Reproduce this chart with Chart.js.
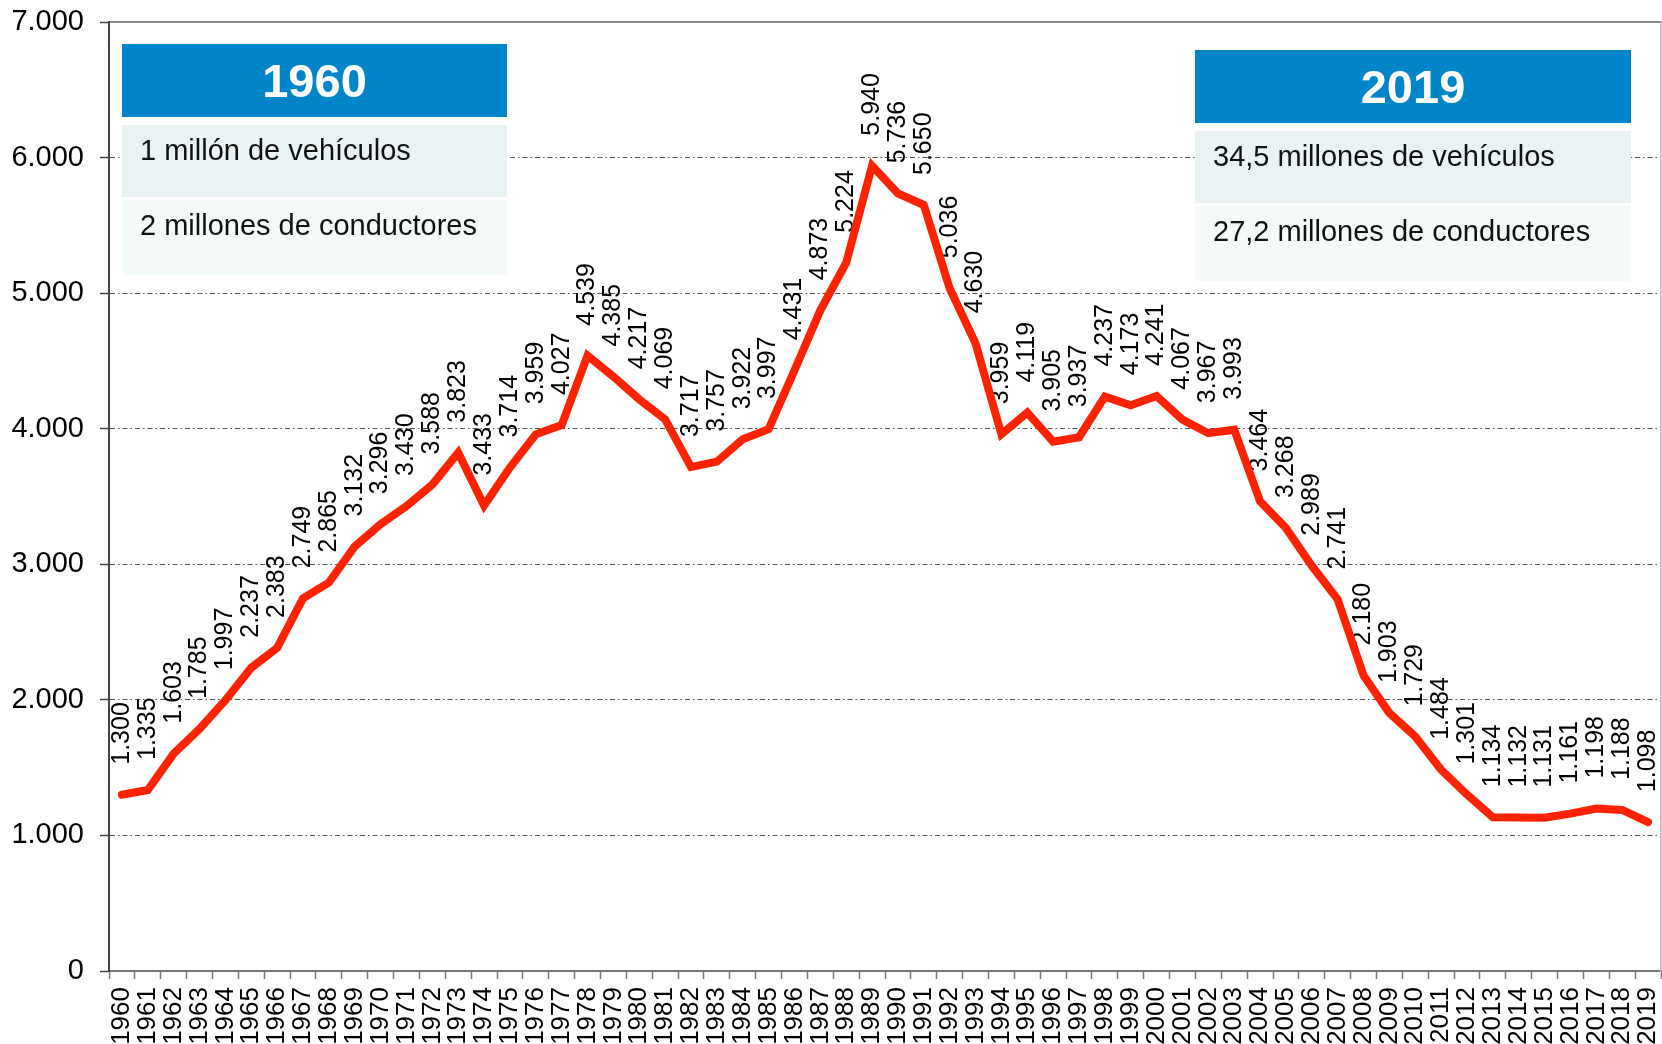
<!DOCTYPE html>
<html lang="es">
<head>
<meta charset="utf-8">
<title>Fallecidos 1960-2019</title>
<script src="https://cdn.jsdelivr.net/npm/chart.js@4.4.1/dist/chart.umd.min.js"></script>
<style>
  body { margin: 0; background: #fff; font-family: "Liberation Sans", Arial, sans-serif; }
  #wrap { position: relative; width: 1662px; height: 1044px; overflow: hidden; }
  .box { position: absolute; }
  .head { height: 73px; background: #0085cb; color: #fff; font-weight: bold; font-size: 47px;
          line-height: 73px; text-align: center; }
  .row { height: 72px; box-sizing: border-box; padding: 11px 0 0 18px; font-size: 29px;
         line-height: 29px; color: #111; }
  .r1 { background: #eaf3f4; margin-top: 8px; }
  .r2 { background: #f4f9f9; margin-top: 3px; height: 75px; }
</style>
</head>
<body>
<div id="wrap">
  <canvas id="myChart"></canvas>

  <div class="box" style="left:122px; top:44px; width:385px;">
    <div class="head">1960</div>
    <div class="row r1">1 millón de vehículos</div>
    <div class="row r2">2 millones de conductores</div>
  </div>

  <div class="box" style="left:1195px; top:50px; width:436px;">
    <div class="head">2019</div>
    <div class="row r1">34,5 millones de vehículos</div>
    <div class="row r2">27,2 millones de conductores</div>
  </div>
</div>

<script>
// años y fallecidos
var years = [];
for (var y = 1960; y <= 2019; y++) { years.push(String(y)); }

var fallecidos = [
    1300, 1335, 1603, 1785, 1997, 2237, 2383, 2749, 2865, 3132,
    3296, 3430, 3588, 3823, 3433, 3714, 3959, 4027, 4539, 4385,
    4217, 4069, 3717, 3757, 3922, 3997, 4431, 4873, 5224, 5940,
    5736, 5650, 5036, 4630, 3959, 4119, 3905, 3937, 4237, 4173,
    4241, 4067, 3967, 3993, 3464, 3268, 2989, 2741, 2180, 1903,
    1729, 1484, 1301, 1134, 1132, 1131, 1161, 1198, 1188, 1098
];

var yMin = 0;
var yMax = 7000;
var yStep = 1000;

var FONT = '"Liberation Sans", Arial, sans-serif';

// separador de miles con punto
function fmt(v) {
    return String(v).replace(/\B(?=(\d{3})+(?!\d))/g, '.');
}

// sin margenes extra de las etiquetas
function noPad(scale) {
    scale.paddingLeft = 0;
    scale.paddingRight = 0;
    scale.paddingTop = 0;
    scale.paddingBottom = 0;
}

// etiquetas verticales encima de cada punto
const valueLabels = {
    id: 'valueLabels',
    beforeDatasetsDraw(chart) {
        const ctx = chart.ctx;
        const meta = chart.getDatasetMeta(0);
        ctx.save();
        ctx.font = '25px ' + FONT;
        ctx.fillStyle = '#000';
        ctx.textAlign = 'left';
        ctx.textBaseline = 'middle';
        meta.data.forEach(function (pt, i) {
            ctx.save();
            ctx.translate(pt.x, pt.y - 30);
            ctx.rotate(-Math.PI / 2);
            ctx.fillText(fmt(fallecidos[i]), 0, 0);
            ctx.restore();
        });
        ctx.restore();
    }
};

var ctx = document.getElementById('myChart').getContext('2d');
var myChart = new Chart(ctx, {
    type: 'line',
    data: {
        labels: years,
        datasets: [{
            data: fallecidos,
            borderColor: '#ff2200',
            borderWidth: 8,
            borderCapStyle: 'round',
            pointRadius: 0,
            tension: 0,
            fill: false
        }]
    },
    options: {
        responsive: true,
        maintainAspectRatio: false,
        animation: false,
        devicePixelRatio: 1,
        layout: { padding: { top: 22, right: 1, left: 0, bottom: 0 } },
        plugins: {
            legend: { display: false },
            tooltip: { enabled: false }
        },
        scales: {
            x: {
                offset: true,
                grid: {
                    offset: true,
                    drawOnChartArea: false,
                    tickLength: 8,
                    tickColor: '#777',
                    tickWidth: 1.5
                },
                border: { color: '#777', width: 2 },
                ticks: {
                    autoSkip: false,
                    minRotation: 90,
                    maxRotation: 90,
                    padding: 8,
                    color: '#000',
                    font: { family: FONT, size: 26 }
                },
                afterFit: function (scale) { noPad(scale); scale.height = 73; }
            },
            x2: {
                position: 'top',
                display: true,
                grid: { drawOnChartArea: false, drawTicks: false },
                ticks: { display: false },
                border: { color: '#8a8a8a', width: 2 },
                afterFit: function (scale) { noPad(scale); scale.height = 0; }
            },
            y: {
                min: yMin,
                max: yMax,
                ticks: {
                    stepSize: yStep,
                    padding: 16,
                    color: '#000',
                    font: { family: FONT, size: 29 },
                    callback: function (v) { return fmt(v); }
                },
                grid: {
                    color: function (c) {
                        if (c.tick && (c.tick.value === yMin || c.tick.value === yMax)) return 'rgba(0,0,0,0)';
                        return '#555';
                    },
                    lineWidth: 1,
                    tickLength: 9,
                    tickColor: '#444',
                    tickWidth: 1.5
                },
                border: { color: '#444', width: 2, dash: [5, 3, 1.5, 3] },
                afterFit: function (scale) { noPad(scale); scale.width = 109; }
            },
            y2: {
                position: 'right',
                display: true,
                min: yMin,
                max: yMax,
                grid: { drawOnChartArea: false, drawTicks: false },
                ticks: { display: false },
                border: { color: '#b8b8b8', width: 1.5 },
                afterFit: function (scale) { noPad(scale); scale.width = 0; }
            }
        }
    },
    plugins: [valueLabels]
});
</script>
</body>
</html>
